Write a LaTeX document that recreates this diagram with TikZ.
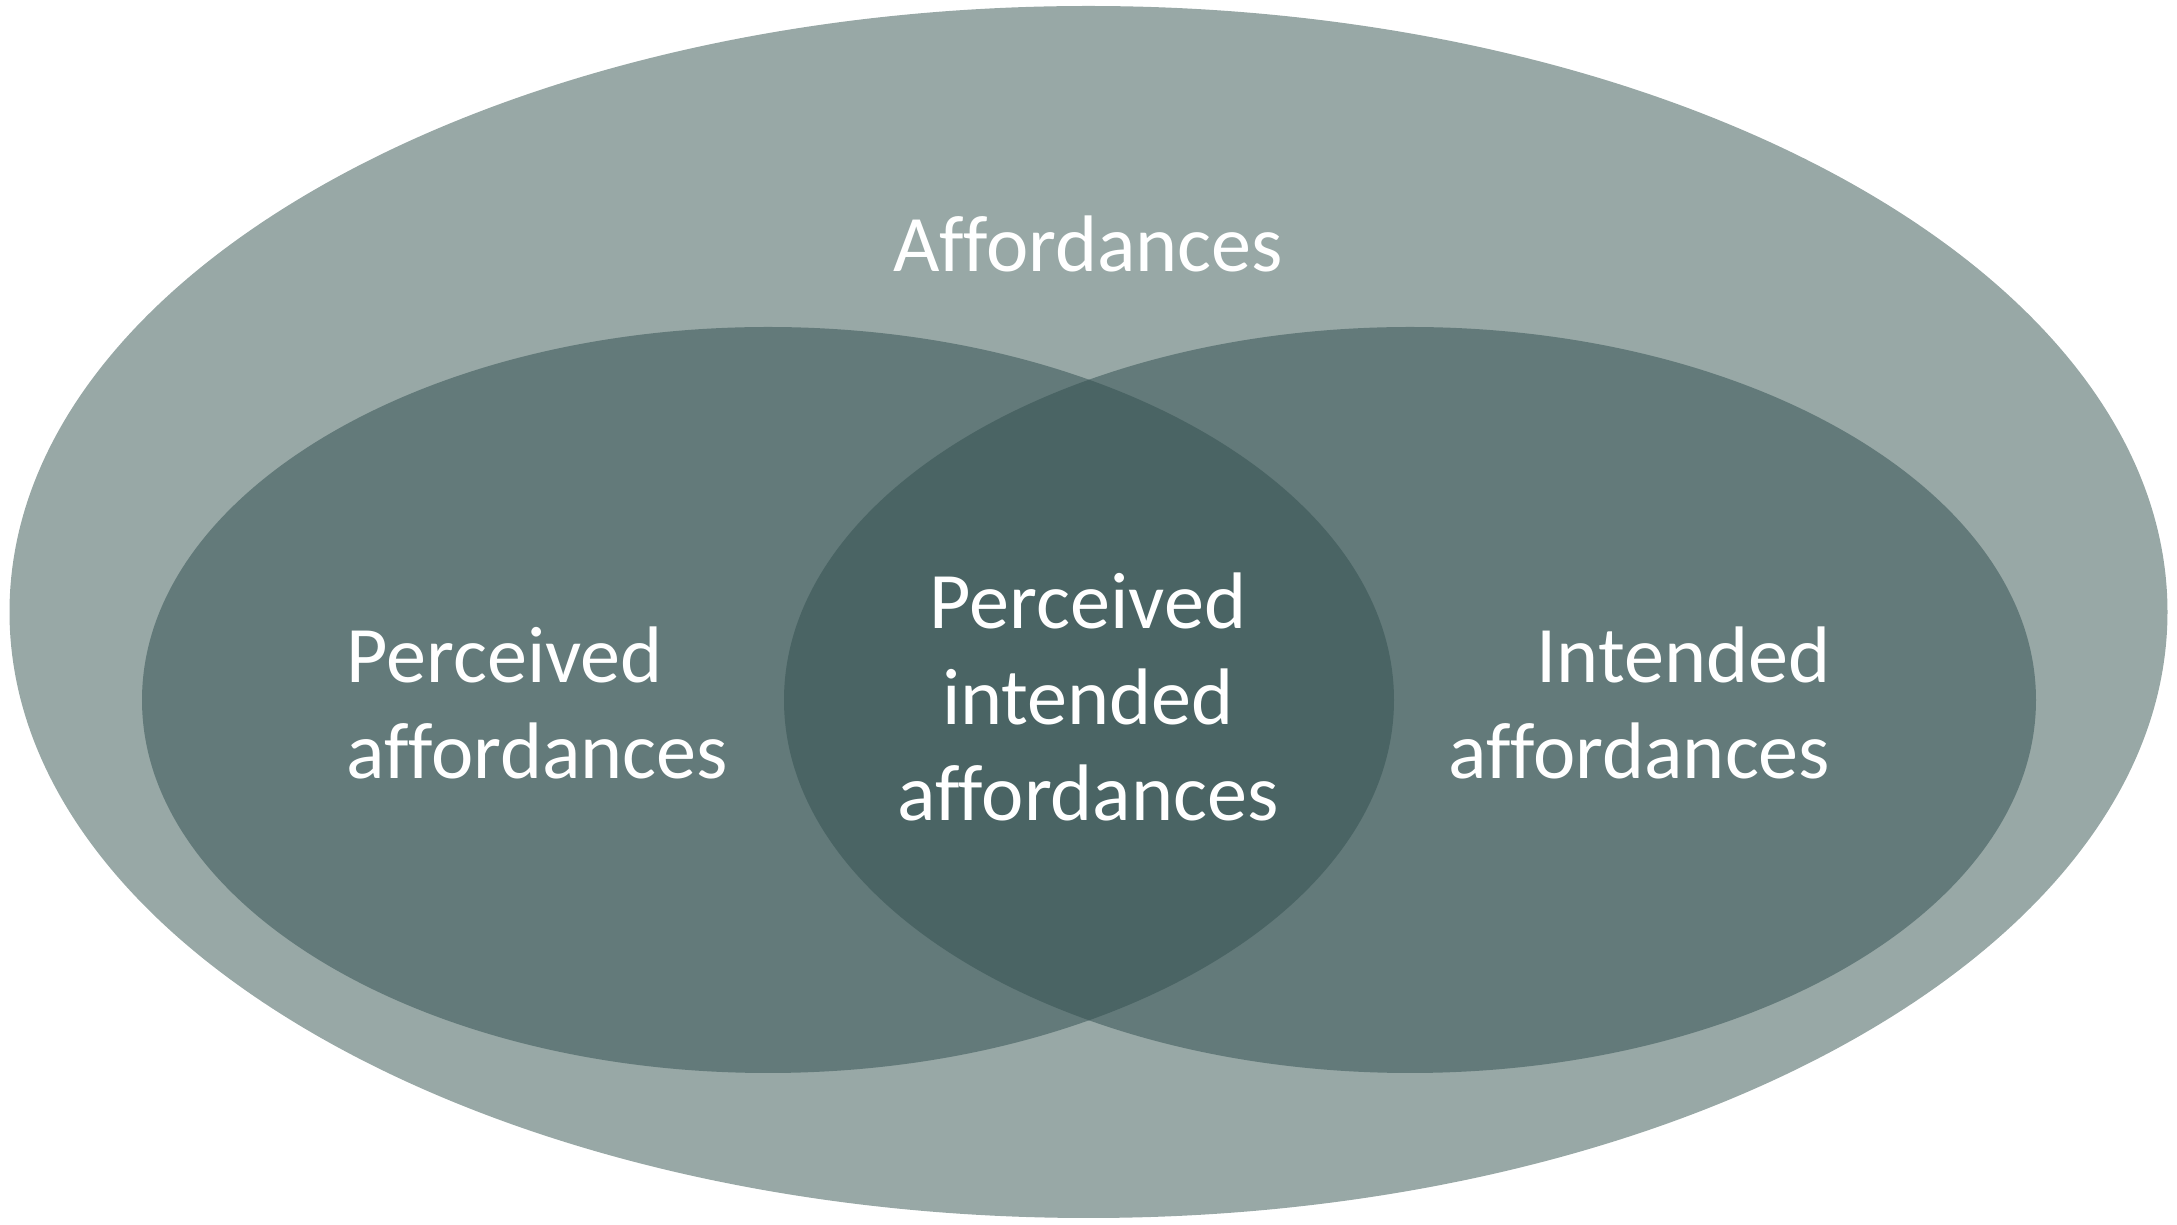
\documentclass[tikz,border=0pt]{standalone}
\usepackage{fontspec}
\setmainfont{Carlito}[Ligatures=NoCommon]
\usepackage{xcolor}
\usepackage{tikz}

\definecolor{outerfill}{HTML}{98A8A6}
\definecolor{setfill}{HTML}{637A7A}
\definecolor{bothfill}{HTML}{4A6464}

\begin{document}
\begin{tikzpicture}[x=0.01cm,y=-0.01cm,
  lbl/.style={text=white,font=\fontsize{22.8}{27.4}\selectfont,inner sep=0pt}]
\useasboundingbox (0,0) rectangle (2177,1225);

% all affordances
\fill[outerfill] (1088.5,612) ellipse [x radius=1079,y radius=606];
\node[lbl] (aff) at (1088,244) {Affordances};

% perceived and intended sets
\fill[setfill] (768,700) ellipse [x radius=626,y radius=373];
\fill[setfill] (1410,700) ellipse [x radius=626,y radius=373];
\begin{scope}
\clip (768,700) ellipse [x radius=626,y radius=373];
\fill[bothfill] (1410,700) ellipse [x radius=626,y radius=373];
\end{scope}

% labels
\node[lbl,align=left,anchor=west] (perc) at (346,703) {Perceived\\affordances};
\node[lbl,align=center] (both) at (1088,697) {Perceived\\intended\\affordances};
\node[lbl,align=right,anchor=east] (intd) at (1831,703) {Intended\\affordances};
\end{tikzpicture}
\end{document}
